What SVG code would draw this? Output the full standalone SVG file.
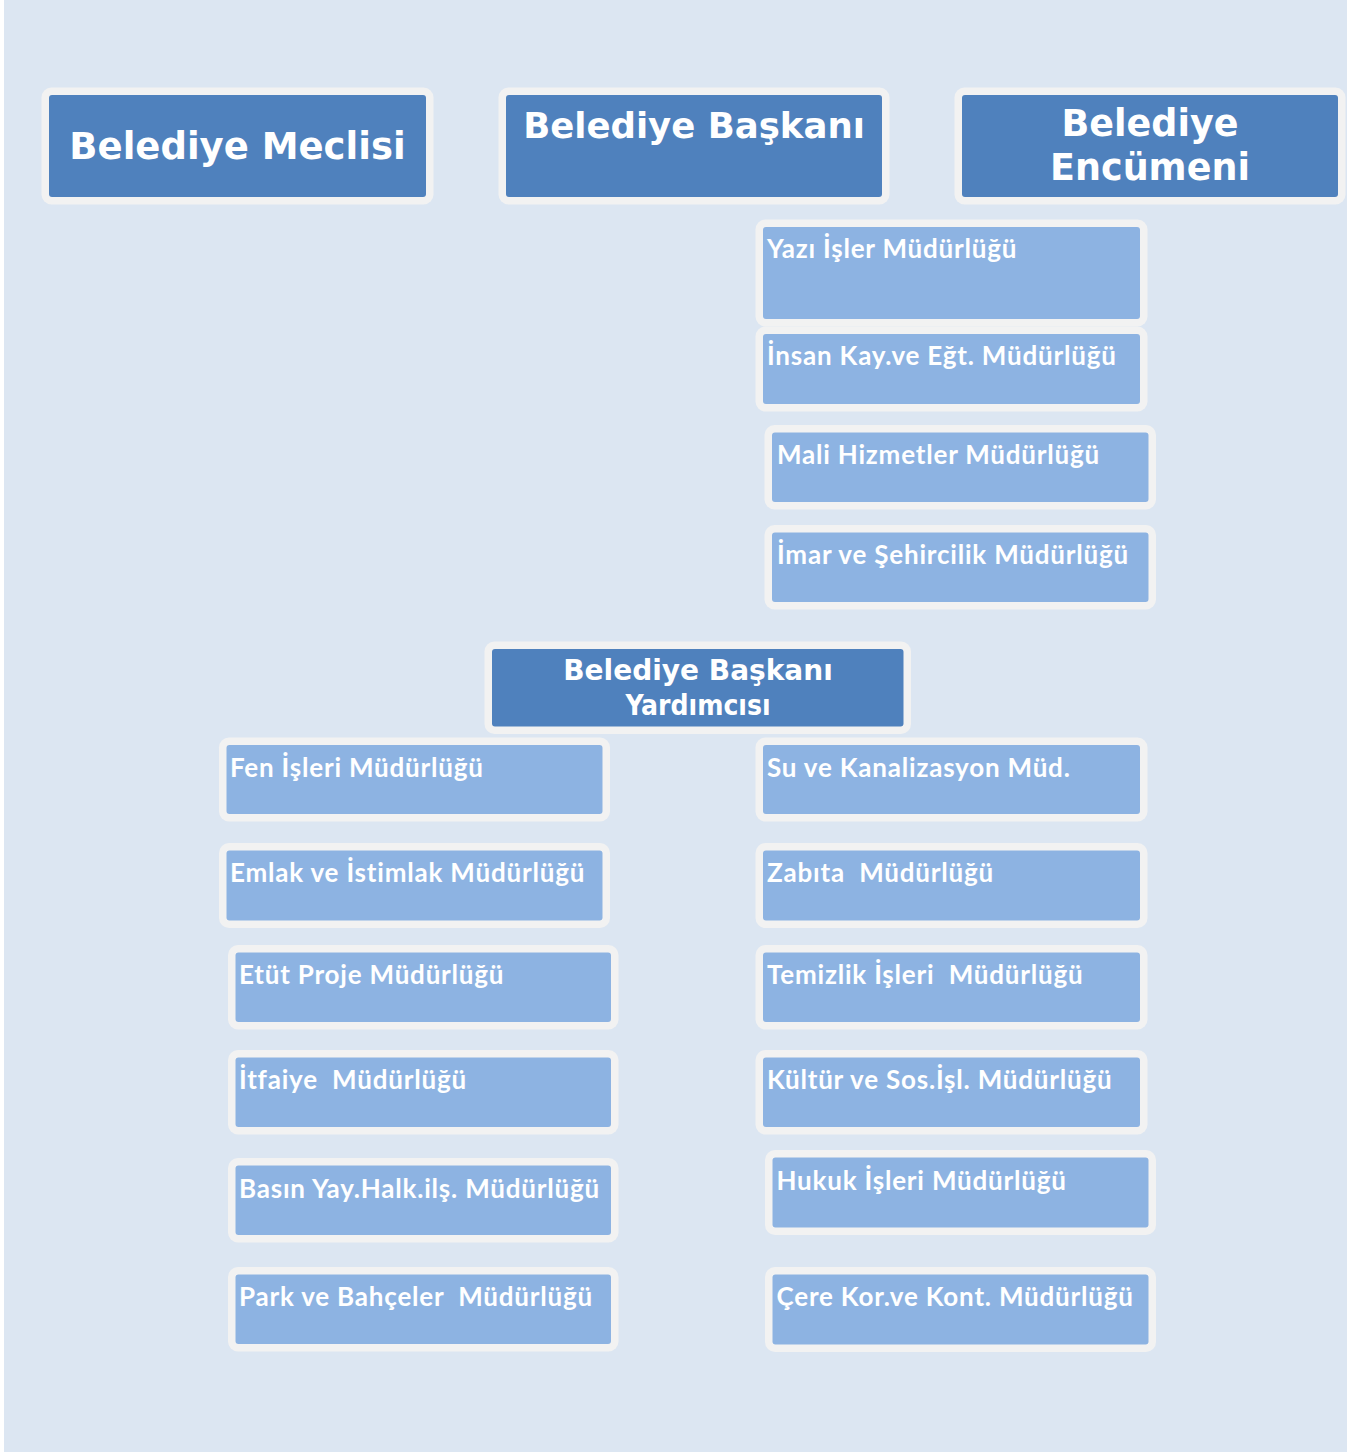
<svg xmlns="http://www.w3.org/2000/svg" width="1363" height="1452" viewBox="0 0 1363 1452">
<style>
.o{fill:#F2F2F2}
.d{fill:#4F81BD}
.l{fill:#8DB3E2}
.t{font-family:"DejaVu Sans",Verdana,sans-serif;font-weight:bold;fill:#FFFFFF;text-anchor:middle}
.r{font-family:"DejaVu Sans Condensed","DejaVu Sans",sans-serif;font-weight:bold;fill:#FFFFFF;text-anchor:middle}
.s{font-family:Lato,"Carlito","Liberation Sans",sans-serif;font-weight:bold;font-size:26px;letter-spacing:0.8px;fill:#FFFFFF;white-space:pre}
</style>
<rect x="0" y="0" width="1363" height="1452" fill="#FFFFFF"/>
<rect x="4" y="0" width="1343" height="1452" fill="#DCE6F2"/>
<g id="connectors"/>
<g id="meclis"><rect class="o" x="41.5" y="87.5" width="392" height="117" rx="10"/><rect class="d" x="49" y="95" width="377" height="102" rx="3"/><text class="t" x="237.5" y="159" font-size="37">Belediye Meclisi</text></g>
<g id="baskan"><rect class="o" x="498.5" y="87.5" width="391" height="117" rx="10"/><rect class="d" x="506" y="95" width="376" height="102" rx="3"/><text class="t" x="694" y="138" font-size="35.5">Belediye Başkanı</text></g>
<g id="encumen"><rect class="o" x="954.5" y="87.5" width="391" height="117" rx="10"/><rect class="d" x="962" y="95" width="376" height="102" rx="3"/><text class="t" x="1150" y="136" font-size="36.5">Belediye</text><text class="t" x="1150" y="180" font-size="36.5">Encümeni</text></g>
<g id="yazi"><rect class="o" x="755.5" y="219.5" width="392" height="107" rx="10"/><rect class="l" x="763" y="227" width="377" height="92" rx="3"/><text class="s" x="767" y="258">Yazı İşler Müdürlüğü</text></g>
<g id="insan"><rect class="o" x="755.5" y="326.5" width="392" height="85" rx="10"/><rect class="l" x="763" y="334" width="377" height="70" rx="3"/><text class="s" x="767" y="365">İnsan Kay.ve Eğt. Müdürlüğü</text></g>
<g id="mali"><rect class="o" x="764.5" y="425" width="391.5" height="84.5" rx="10"/><rect class="l" x="772" y="432.5" width="376.5" height="69.5" rx="3"/><text class="s" x="777" y="463.5">Mali Hizmetler Müdürlüğü</text></g>
<g id="imar"><rect class="o" x="764.5" y="525" width="391.5" height="84.5" rx="10"/><rect class="l" x="772" y="532.5" width="376.5" height="69.5" rx="3"/><text class="s" x="777" y="563.5">İmar ve Şehircilik Müdürlüğü</text></g>
<g id="yardimci"><rect class="o" x="484.5" y="641.5" width="426.5" height="92.5" rx="10"/><rect class="d" x="492" y="649" width="411.5" height="77.5" rx="3"/><text class="t" x="698" y="680" font-size="28">Belediye Başkanı</text><text class="r" x="698" y="715" font-size="28">Yardımcısı</text></g>
<g id="fen"><rect class="o" x="219" y="737.5" width="391" height="84" rx="10"/><rect class="l" x="226.5" y="745" width="376" height="69" rx="3"/><text class="s" x="230" y="777">Fen İşleri Müdürlüğü</text></g>
<g id="emlak"><rect class="o" x="219" y="843" width="391" height="85" rx="10"/><rect class="l" x="226.5" y="850.5" width="376" height="70" rx="3"/><text class="s" x="230" y="882">Emlak ve İstimlak Müdürlüğü</text></g>
<g id="etut"><rect class="o" x="228" y="945" width="390.5" height="84.5" rx="10"/><rect class="l" x="235.5" y="952.5" width="375.5" height="69.5" rx="3"/><text class="s" x="239" y="983.5">Etüt Proje Müdürlüğü</text></g>
<g id="itfaiye"><rect class="o" x="228" y="1050" width="390.5" height="84.5" rx="10"/><rect class="l" x="235.5" y="1057.5" width="375.5" height="69.5" rx="3"/><text class="s" x="239" y="1088.5">İtfaiye  Müdürlüğü</text></g>
<g id="basin"><rect class="o" x="228" y="1158" width="390.5" height="84.5" rx="10"/><rect class="l" x="235.5" y="1165.5" width="375.5" height="69.5" rx="3"/><text class="s" x="239" y="1197.5">Basın Yay.Halk.ilş. Müdürlüğü</text></g>
<g id="park"><rect class="o" x="228" y="1267" width="390.5" height="84.5" rx="10"/><rect class="l" x="235.5" y="1274.5" width="375.5" height="69.5" rx="3"/><text class="s" x="239" y="1306">Park ve Bahçeler  Müdürlüğü</text></g>
<g id="su"><rect class="o" x="755.5" y="737.5" width="392" height="84" rx="10"/><rect class="l" x="763" y="745" width="377" height="69" rx="3"/><text class="s" x="767" y="777">Su ve Kanalizasyon Müd.</text></g>
<g id="zabita"><rect class="o" x="755.5" y="843" width="392" height="85" rx="10"/><rect class="l" x="763" y="850.5" width="377" height="70" rx="3"/><text class="s" x="767" y="882">Zabıta  Müdürlüğü</text></g>
<g id="temizlik"><rect class="o" x="755.5" y="945" width="392" height="84.5" rx="10"/><rect class="l" x="763" y="952.5" width="377" height="69.5" rx="3"/><text class="s" x="767" y="983.5">Temizlik İşleri  Müdürlüğü</text></g>
<g id="kultur"><rect class="o" x="755.5" y="1050" width="392" height="84.5" rx="10"/><rect class="l" x="763" y="1057.5" width="377" height="69.5" rx="3"/><text class="s" x="767" y="1088.5">Kültür ve Sos.İşl. Müdürlüğü</text></g>
<g id="hukuk"><rect class="o" x="765" y="1150" width="391" height="85" rx="10"/><rect class="l" x="772.5" y="1157.5" width="376" height="70" rx="3"/><text class="s" x="776.5" y="1190">Hukuk İşleri Müdürlüğü</text></g>
<g id="cere"><rect class="o" x="765" y="1267" width="391" height="85" rx="10"/><rect class="l" x="772.5" y="1274.5" width="376" height="70" rx="3"/><text class="s" x="776.5" y="1306">Çere Kor.ve Kont. Müdürlüğü</text></g>
</svg>
